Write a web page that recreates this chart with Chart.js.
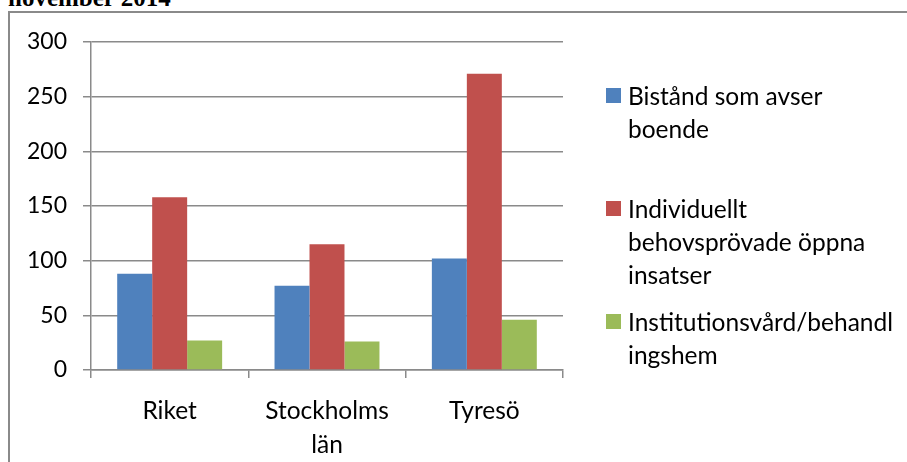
<!DOCTYPE html>
<html lang="sv">
<head>
    <meta charset="UTF-8">
    <title>Bistånd per 10 000 invånare</title>
    <script src="https://cdn.jsdelivr.net/npm/chart.js"></script>
    <style>
        html, body { margin: 0; padding: 0; background: #fff; }
        #page { position: relative; width: 907px; height: 462px; overflow: hidden; }
        #heading {
            position: absolute; left: 8px; top: -16px;
            font: bold 25px "Liberation Serif", "Times New Roman", serif;
            color: #000; white-space: nowrap;
        }
        #frame {
            position: absolute; left: 8px; top: 11px; width: 920px; height: 480px;
            border-left: 2px solid #8a8a8a; border-top: 2px solid #8a8a8a;
        }
        #chart-box { position: absolute; left: 0; top: 0; width: 907px; height: 462px; }
        .legend-item {
            position: absolute; left: 606px;
            font: 24.5px Lato, sans-serif; line-height: 33px; color: #000;
        }
        .legend-item .swatch {
            position: absolute; left: 0; top: 9px; width: 15px; height: 15px;
        }
        .legend-item .text { margin-left: 22px; white-space: nowrap; }
    </style>
</head>
<body>
    <div id="page">
        <div id="heading">november 2014</div>
        <div id="frame"></div>
        <div id="chart-box"><canvas id="bar-chart"></canvas></div>
    </div>

    <script>
        // Data
        const categories = ['Riket', ['Stockholms', 'län'], 'Tyresö'];
        const boende = [88, 77, 102];
        const oppnaInsatser = [158, 115, 271];
        const institution = [27, 26, 46];
        const yTicks = [0, 50, 100, 150, 200, 250, 300];

        const seriesNames = [
            ['Bistånd som avser', 'boende'],
            ['Individuellt', 'behovsprövade öppna', 'insatser'],
            ['Institutionsvård/behandl', 'ingshem']
        ];
        const seriesColors = ['#4F81BD', '#C0504D', '#9BBB59'];

        // legend line-box tops (layout only)
        const legendTops = [79, 192, 305];

        const gridColor = '#8a8a8a';

        const ctx = document.getElementById('bar-chart').getContext('2d');

        const chart = new Chart(ctx, {
            type: 'bar',
            data: {
                labels: categories,
                datasets: [boende, oppnaInsatser, institution].map((values, i) => ({
                    label: seriesNames[i].join(' '),
                    data: values,
                    backgroundColor: seriesColors[i],
                    borderWidth: 0,
                    categoryPercentage: 0.667,
                    barPercentage: 1.0
                }))
            },
            options: {
                responsive: true,
                maintainAspectRatio: false,
                animation: false,
                layout: { padding: { left: 0, top: 42, right: 344, bottom: 0 } },
                plugins: {
                    legend: { display: false },
                    tooltip: { enabled: false }
                },
                scales: {
                    x: {
                        offset: true,
                        grid: {
                            offset: true,
                            drawOnChartArea: false,
                            drawTicks: true,
                            tickLength: 8,
                            color: gridColor,
                            lineWidth: 1.5
                        },
                        border: { display: true, color: gridColor, width: 1.5 },
                        ticks: {
                            color: '#000',
                            font: { family: 'Lato', size: 24.5, lineHeight: 1.38 },
                            padding: 16,
                            maxRotation: 0,
                            autoSkip: false
                        },
                        afterFit: scale => { scale.height = 92; }
                    },
                    y: {
                        min: 0,
                        max: 300,
                        afterBuildTicks: scale => {
                            scale.ticks = yTicks.map(v => ({ value: v }));
                        },
                        grid: {
                            color: gridColor,
                            lineWidth: 1.5,
                            drawTicks: true,
                            tickLength: 8
                        },
                        border: { display: true, color: gridColor, width: 1.5 },
                        ticks: {
                            color: '#000',
                            font: { family: 'Lato', size: 23 },
                            padding: 16
                        },
                        afterFit: scale => { scale.width = 91; }
                    }
                }
            }
        });

        // Legend with wrapped labels, built from the datasets
        const page = document.getElementById('page');
        chart.data.datasets.forEach((ds, i) => {
            const item = document.createElement('div');
            item.className = 'legend-item';
            item.style.top = legendTops[i] + 'px';
            const sw = document.createElement('div');
            sw.className = 'swatch';
            sw.style.background = ds.backgroundColor;
            const txt = document.createElement('div');
            txt.className = 'text';
            txt.innerHTML = seriesNames[i].join('<br>');
            item.appendChild(sw);
            item.appendChild(txt);
            page.appendChild(item);
        });
    </script>
</body>
</html>
